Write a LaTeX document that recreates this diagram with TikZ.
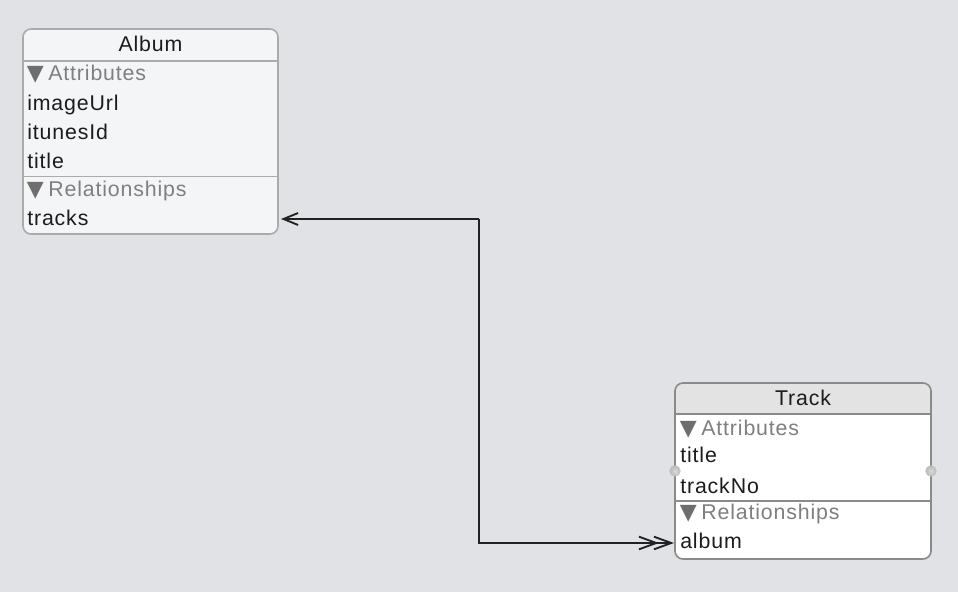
\documentclass[tikz,border=0pt]{standalone}
\usepackage{fontspec}
\setmainfont{Liberation Sans}[LetterSpace=4]
\newfontfamily\symf{DejaVu Sans}
\newcommand{\tri}{{\symf\fontsize{16.5pt}{19pt}\selectfont ▼}\hspace{3.5pt}}
\usetikzlibrary{arrows.meta}
\definecolor{bgc}{HTML}{E1E2E6}
\definecolor{albfill}{HTML}{F4F5F7}
\definecolor{albborder}{HTML}{ABABAB}
\definecolor{trkborder}{HTML}{8A8A8A}
\definecolor{trkhead}{HTML}{E3E3E3}
\definecolor{txt}{HTML}{1C1C1C}
\definecolor{sec}{HTML}{7F7F7F}
\definecolor{tric}{HTML}{6E6E6E}
\definecolor{linec}{HTML}{222222}
\tikzset{
  lbl/.style={anchor=base west, inner sep=0pt, text=txt, font=\fontsize{16pt}{19pt}\selectfont},
  title/.style={anchor=base, inner sep=0pt, text=txt, font=\fontsize{16pt}{19pt}\selectfont},
  seclbl/.style={anchor=base west, inner sep=0pt, text=sec, font=\fontsize{16pt}{19pt}\selectfont},
  conn/.style={draw=linec, line width=1.5pt},
  one/.style={-{Straight Barb[length=11pt,width=9pt,line width=1.4pt]}},
  many/.style={-{Straight Barb[length=13pt,width=9.5pt,line width=1.4pt,sep=-4.5pt] Straight Barb[length=13pt,width=9.5pt,line width=1.4pt]}},
  handle/.style={circle, inner sep=0pt, minimum size=8.5pt, shade, inner color=gray!30, outer color=gray!55, draw=none}
}
\begin{document}
\begin{tikzpicture}[x=0.75pt,y=-0.75pt]
\useasboundingbox[fill=bgc] (0,0) rectangle (958,592);
% Album entity
\node[draw=albborder, fill=albfill, line width=1.2pt, rounded corners=6pt, minimum width=191.25pt, minimum height=153.75pt, inner sep=0pt] (album) at (150.5,131.5) {};
\draw[albborder, line width=1.2pt] (23,61) -- (278,61);
\draw[albborder, line width=1.2pt] (23,176.5) -- (278,176.5);
\node[title] (albumT) at (150.5,52) {Album};
\node[seclbl] (albumA) at (26.5,81) {\textcolor{tric}{\tri}Attributes};
\node[lbl] (a1) at (27,110.5) {imageUrl};
\node[lbl] (a2) at (27,140) {itunesId};
\node[lbl] (a3) at (27,169) {title};
\node[seclbl] (albumR) at (26.5,196) {\textcolor{tric}{\tri}Relationships};
\node[lbl] (a4) at (27,225) {tracks};
% Track entity
\begin{scope}
\clip[rounded corners=6pt] (675,383) rectangle (931,559);
\fill[white] (675,383) rectangle (931,559);
\fill[trkhead] (675,383) rectangle (931,414);
\end{scope}
\node[draw=trkborder, line width=1.2pt, rounded corners=6pt, minimum width=192pt, minimum height=132pt, inner sep=0pt] (track) at (803,471) {};
\draw[trkborder, line width=1.2pt] (675,414) -- (931,414);
\draw[trkborder, line width=1.2pt] (675,501) -- (931,501);
\node[title] (trackT) at (803,405) {Track};
\node[seclbl] (trackA) at (679.5,435) {\textcolor{tric}{\tri}Attributes};
\node[lbl] (t1) at (680,462.5) {title};
\node[lbl] (t2) at (680,493) {trackNo};
\node[seclbl] (trackR) at (679.5,519.5) {\textcolor{tric}{\tri}Relationships};
\node[lbl] (t3) at (680,548.5) {album};
\node[handle] (hl) at (675,471) {};
\node[handle] (hr) at (931,471) {};
% connector
\coordinate (pa) at (281,219);
\coordinate (pb) at (674,543);
\coordinate (bend) at (479,219);
\draw[conn, one] (bend) -- (pa);
\draw[conn, many] (bend) |- (pb);
\end{tikzpicture}
\end{document}
